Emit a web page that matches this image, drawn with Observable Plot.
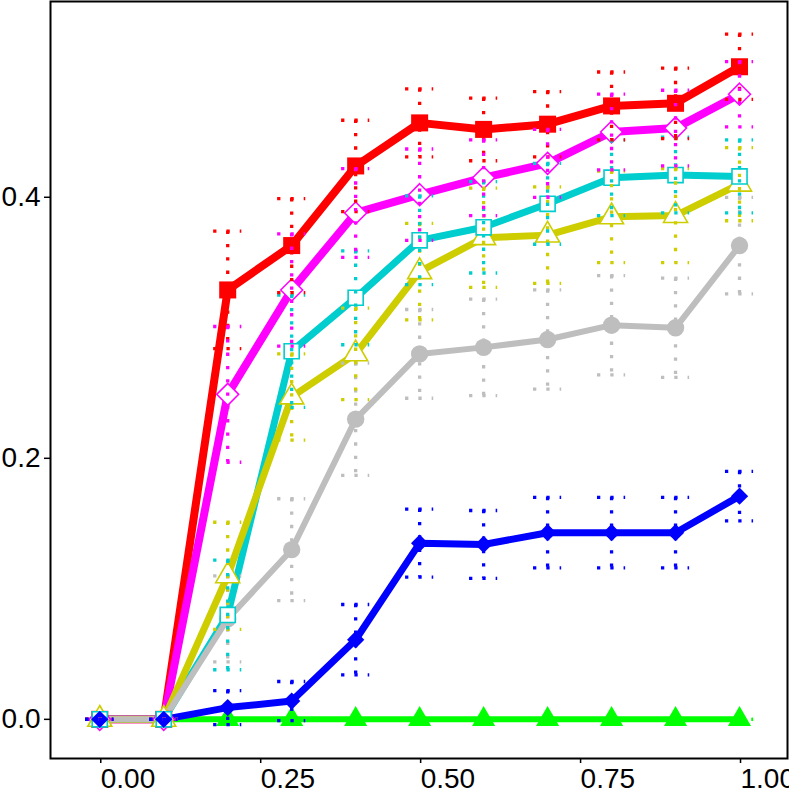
<!DOCTYPE html>
<html><head><meta charset="utf-8">
<script src="https://cdn.jsdelivr.net/npm/d3@7"></script>
<script src="https://cdn.jsdelivr.net/npm/@observablehq/plot@0.6"></script>
<style>html,body{margin:0;padding:0;background:#fff;overflow:hidden}</style>
</head><body><div id="chart"></div>
<script>
// ---- data ----
const xValues = [0, 0.1, 0.2, 0.3, 0.4, 0.5, 0.6, 0.7, 0.8, 0.9, 1.0];

const redMean     = [0, 0, 0.329, 0.363, 0.424, 0.457, 0.452, 0.456, 0.470, 0.472, 0.500];
const redErr      = [0, 0, 0.045, 0.036, 0.035, 0.026, 0.024, 0.025, 0.026, 0.027, 0.025];
const magentaMean = [0, 0, 0.249, 0.329, 0.388, 0.402, 0.415, 0.426, 0.450, 0.453, 0.479];
const magentaErr  = [0, 0, 0.052, 0.043, 0.034, 0.035, 0.029, 0.026, 0.029, 0.029, 0.025];
const cyanMean    = [0, 0, 0.080, 0.282, 0.323, 0.367, 0.377, 0.395, 0.415, 0.417, 0.416];
const cyanErr     = [0, 0, 0.042, 0.043, 0.036, 0.034, 0.035, 0.031, 0.029, 0.029, 0.028];
const yellowMean  = [0, 0, 0.110, 0.247, 0.280, 0.343, 0.369, 0.371, 0.385, 0.386, 0.410];
const yellowErr   = [0, 0, 0.041, 0.033, 0.035, 0.037, 0.038, 0.037, 0.035, 0.036, 0.028];
const grayMean    = [0, 0, 0.077, 0.130, 0.230, 0.280, 0.285, 0.291, 0.302, 0.300, 0.363];
const grayErr     = [0, 0, 0.033, 0.039, 0.043, 0.034, 0.037, 0.038, 0.038, 0.038, 0.037];
const blueMean    = [0, 0, 0.009, 0.014, 0.061, 0.135, 0.134, 0.143, 0.143, 0.143, 0.171];
const blueErr     = [0, 0, 0.013, 0.015, 0.027, 0.026, 0.026, 0.027, 0.027, 0.027, 0.019];
const greenMean   = [0, 0, 0, 0, 0, 0, 0, 0, 0, 0, 0];
const greenErr    = [0, 0, 0, 0, 0, 0, 0, 0, 0, 0, 0];

const xTicks = [0, 0.25, 0.5, 0.75, 1];
const yTicks = [0, 0.2, 0.4];

const seriesData = {
  red: [redMean, redErr], magenta: [magentaMean, magentaErr], cyan: [cyanMean, cyanErr],
  yellow: [yellowMean, yellowErr], gray: [grayMean, grayErr], blue: [blueMean, blueErr],
  green: [greenMean, greenErr]
};

// ---- styles ----
const styles = {
  red:     {color: "#FF0000", symbol: "square",   r: 9.6, fill: "#FF0000", sw: 0,   lw: 8},
  magenta: {color: "#FF00FF", symbol: "diamond2", r: 9.9, fill: "white",   sw: 1.5, lw: 8},
  cyan:    {color: "#00CDCD", symbol: "square",   r: 8.5, fill: "white",   sw: 1.6, lw: 7},
  yellow:  {color: "#CDCD00", symbol: "triangle", r: 8.9, fill: "white",   sw: 1.6, lw: 7},
  gray:    {color: "#BEBEBE", symbol: "circle",   r: 8.7, fill: "#BEBEBE", sw: 0,   lw: 6},
  blue:    {color: "#0000FF", symbol: "diamond2", r: 7.8, fill: "#0000FF", sw: 0,   lw: 7},
  green:   {color: "#00FF00", symbol: "triangle", r: 8.6, fill: "#00FF00", sw: 0,   lw: 6}
};

const rows = name => xValues.map((x, i) => ({series: name, x, y: seriesData[name][0][i], e: seriesData[name][1][i]}));

const lineOrder = ["green", "blue", "red", "magenta", "cyan", "yellow", "gray"];
const dotOrder  = ["green", "gray", "red", "magenta", "yellow", "cyan", "blue"];
const errOrder  = ["green", "gray", "yellow", "cyan", "red", "magenta", "blue"];
const capHalf = 0.022;
const dash = "3.3,10";

const marks = [];
for (const n of lineOrder) {
  const s = styles[n];
  marks.push(Plot.line(rows(n), {x: "x", y: "y", stroke: s.color, strokeWidth: s.lw,
    strokeLinejoin: "round", strokeLinecap: "round"}));
}
for (const n of dotOrder) {
  const s = styles[n];
  marks.push(Plot.dot(rows(n), {x: "x", y: "y", symbol: () => s.symbol, r: s.r,
    fill: s.fill, stroke: s.sw ? s.color : "none", strokeWidth: s.sw}));
}
for (const n of errOrder) {
  const s = styles[n];
  const d = rows(n);
  const common = {stroke: s.color, strokeWidth: 3.3, strokeDasharray: dash};
  marks.push(Plot.ruleX(d, {x: "x", y1: r => r.y + r.e, y2: r => r.y - r.e, ...common}));
  marks.push(Plot.ruleY(d, {y: r => r.y + r.e, x1: r => r.x - capHalf, x2: r => r.x + capHalf, ...common}));
  marks.push(Plot.ruleY(d, {y: r => r.y - r.e, x1: r => r.x - capHalf, x2: r => r.x + capHalf, ...common}));
}
marks.push(Plot.frame({stroke: "black", strokeWidth: 2}));
marks.push(Plot.axisY({ticks: yTicks, tickFormat: d3.format(".1f"), tickSize: 6, tickPadding: 4, label: null,
  fontSize: 28, stroke: "black", strokeWidth: 1.5, fill: "black"}));
marks.push(Plot.axisX({ticks: xTicks, tickFormat: d3.format(".2f"), tickSize: 5, tickPadding: 5, label: null,
  fontSize: 28, textAnchor: "start", dx: 1, stroke: "black", strokeWidth: 1.5, fill: "black"}));

const chart = Plot.plot({
  width: 789, height: 789,
  marginLeft: 50, marginRight: 2, marginTop: 1, marginBottom: 31,
  style: {fontFamily: "'Liberation Sans', Arial, sans-serif", background: "white", overflow: "visible"},
  x: {domain: [-0.077, 1.075], label: null},
  y: {domain: [-0.03, 0.55], label: null},
  marks
});
document.getElementById("chart").appendChild(chart);
</script>
</body></html>
